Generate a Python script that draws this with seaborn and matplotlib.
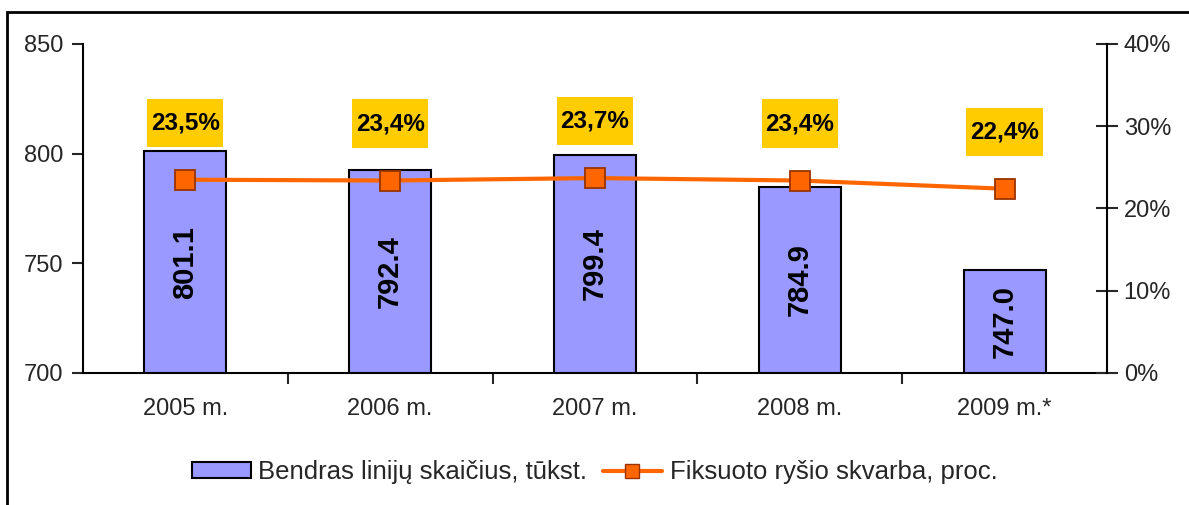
import numpy as np
import pandas as pd
import matplotlib
matplotlib.use("Agg")
import matplotlib.pyplot as plt
import seaborn as sns
from matplotlib.patches import Patch, Rectangle
from matplotlib.lines import Line2D
from matplotlib.path import Path
from matplotlib.ticker import FuncFormatter

# --- data ---
years = ["2005 m.", "2006 m.", "2007 m.", "2008 m.", "2009 m.*"]
lines_total = [801.1, 792.4, 799.4, 784.9, 747.0]      # thousand lines
penetration = [23.5, 23.4, 23.7, 23.4, 22.4]           # percent

bar_name = "Bendras linijų skaičius, tūkst."
line_name = "Fiksuoto ryšio skvarba, proc."

df = pd.DataFrame({"year": years, "total": lines_total, "pct": penetration})

sns.set_theme(style="white")
plt.rcParams["font.family"] = ["Liberation Sans", "DejaVu Sans"]

bar_col = "#9999FF"
line_col = "#FF6600"
edge_col = "#993300"
box_col = "#FFCC00"
fs = 17


def label_box(x0, y0, width, height, mutation_size):
    """Yellow label box, narrow side padding and tall top/bottom padding."""
    px = 0.15 * mutation_size
    py = 0.52 * mutation_size
    return Path([(x0 - px, y0 - py), (x0 + width + px, y0 - py),
                 (x0 + width + px, y0 + height + py), (x0 - px, y0 + height + py),
                 (x0 - px, y0 - py)], closed=True)


fig = plt.figure(figsize=(11.89, 5.05), dpi=100)
ax = fig.add_axes([0.0698, 0.2614, 0.8612, 0.6515])

sns.barplot(data=df, x="year", y="total", color=bar_col, width=0.4,
            edgecolor="black", linewidth=1.5, saturation=1, ax=ax, zorder=2)
ax.set_ylim(700, 850)
ax.set_yticks([700, 750, 800, 850])
ax.set_xlim(-0.5, 4.5)
ax.set_xlabel("")
ax.set_ylabel("")

# value labels inside the bars
for i, v in enumerate(lines_total):
    ax.text(i, (700 + v) / 2, f"{v:.1f}", rotation=90, ha="center", va="center",
            fontsize=21, fontweight="bold", color="black")

# secondary axis with the penetration line
ax2 = ax.twinx()
sns.pointplot(data=df, x="year", y="pct", color=line_col, markers="s",
              linestyles="-", ax=ax2, markersize=14, linewidth=3,
              markeredgecolor=edge_col, markeredgewidth=1.3)
ax2.set_ylim(0, 40)
ax2.set_yticks([0, 10, 20, 30, 40])
ax2.yaxis.set_major_formatter(FuncFormatter(lambda v, p: f"{v:.0f}%"))
ax2.set_xlim(-0.5, 4.5)
ax2.set_xlabel("")
ax2.set_ylabel("")

for i, p in enumerate(penetration):
    ax2.annotate(f"{p:.1f}%".replace(".", ","), xy=(i, p), xytext=(0, 41),
                 textcoords="offset points", ha="center", va="center",
                 fontsize=17.5, fontweight="bold", color="black",
                 bbox=dict(boxstyle=label_box, fc=box_col, ec="none"))

# spines and ticks
for a in (ax, ax2):
    a.spines["top"].set_visible(False)
    for s in a.spines.values():
        s.set_color("black")
        s.set_linewidth(1.5)
ax.spines["right"].set_visible(False)
ax2.spines["left"].set_visible(False)
ax2.spines["bottom"].set_visible(False)

ax.tick_params(axis="y", direction="out", length=8, width=1.5, labelsize=fs,
               left=True, pad=6)
ax.tick_params(axis="x", which="major", length=0, labelsize=fs, pad=18)
ax.set_xticks([0.5, 1.5, 2.5, 3.5], minor=True)
ax.tick_params(axis="x", which="minor", direction="out", length=8, width=1.5,
               bottom=True)
ax2.tick_params(axis="y", direction="inout", length=16, width=1.5,
                labelsize=fs, right=True, pad=4)
ax2.tick_params(axis="x", length=0, labelbottom=False)

# legend
handles = [
    Patch(facecolor=bar_col, edgecolor="black", linewidth=1.5, label=bar_name),
    Line2D([0], [0], color=line_col, lw=3, marker="s", markersize=10,
           markerfacecolor=line_col, markeredgecolor=edge_col, label=line_name),
]
fig.legend(handles=handles, loc="center", bbox_to_anchor=(0.5, 0.065), ncol=2,
           frameon=False, fontsize=18.5, handlelength=2.3, handleheight=0.55,
           handletextpad=0.3, columnspacing=0.6)

# chart border (only top and left edges are inside the image)
fig.patches.append(Rectangle((7 / 1189, -0.2), 1.2, 1.2 - 12 / 505,
                             transform=fig.transFigure, fill=False,
                             edgecolor="black", linewidth=2))

fig.savefig("out.png", dpi=100)
